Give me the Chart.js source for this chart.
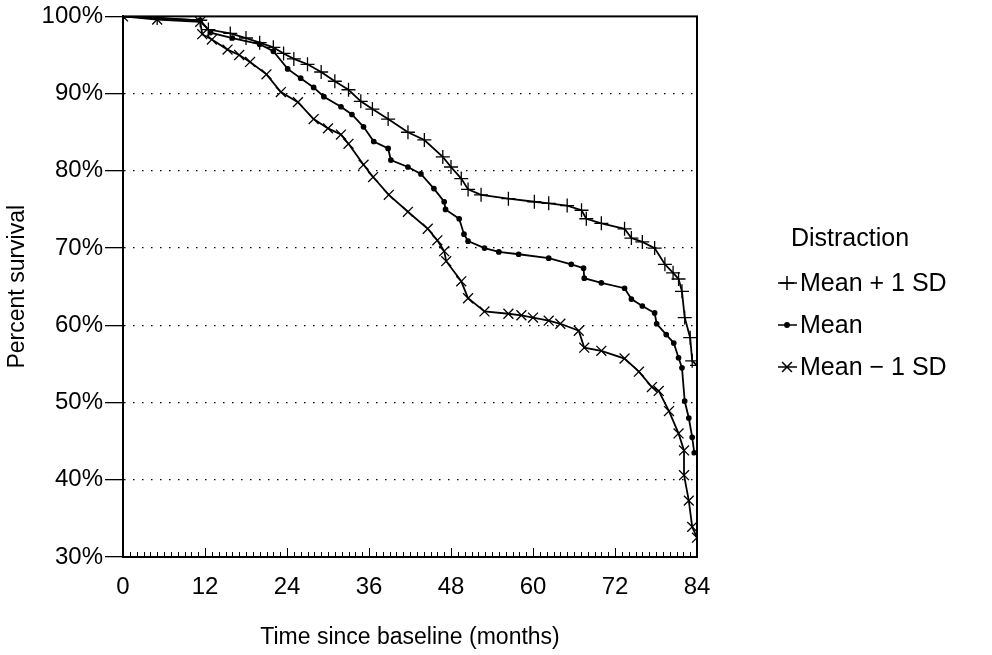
<!DOCTYPE html>
<html>
<head>
<meta charset="utf-8">
<script src="https://cdn.jsdelivr.net/npm/chart.js@4.4.1/dist/chart.umd.min.js"></script>
<style>
  html, body { margin: 0; padding: 0; background: #fff; }
  #wrap { width: 992px; height: 655px; }
</style>
</head>
<body>
<div id="wrap"><canvas id="myChart" width="992" height="655"></canvas></div>
<script>
  // x ticks (months) and y ticks (percent)
  const monthTicks = [0, 12, 24, 36, 48, 60, 72, 84];
  const percentTicks = [30, 40, 50, 60, 70, 80, 90, 100];

  // Mean + 1 SD
  const plusMonths = [0, 5, 11.3, 12.5, 15.7, 18, 20, 22, 23.5, 25, 27, 29, 31, 33, 34.8, 36.5, 38.8, 41.7, 44.1, 46.8, 48, 49.5, 50.5, 52.4, 56.4, 60.2, 62.3, 65, 67.1, 67.8, 70, 73.4, 74.4, 76, 77.8, 79.3, 80.5, 81.3, 81.8, 82.2, 83, 83.3, 84];
  const plusSurvival = [100, 99.8, 99.5, 98.3, 97.8, 97.2, 96.6, 96, 95.2, 94.5, 93.8, 92.8, 91.6, 90.5, 89, 88, 86.7, 85, 84, 81.8, 80.5, 79, 77.6, 76.9, 76.4, 76, 75.8, 75.5, 74.9, 73.8, 73.2, 72.5, 71.3, 70.8, 70, 67.9, 66.8, 66, 64.4, 61, 58.4, 55.4, 54.8];

  // Mean
  const meanMonths = [0, 11.3, 12.8, 16, 20, 22, 24.1, 26, 27.9, 29.4, 31.9, 33.5, 35.2, 36.7, 38.8, 39.2, 41.7, 43.6, 45.5, 47, 47.2, 49.2, 49.9, 50.5, 52.9, 55, 57.9, 62.3, 65.6, 67.4, 67.5, 70, 73.4, 74.4, 76, 77.8, 78.1, 79.5, 80.6, 81.3, 81.8, 82.2, 82.8, 83.3, 83.6];
  const meanSurvival = [100, 99.5, 97.9, 97.2, 96.4, 95.5, 93.2, 92, 90.8, 89.6, 88.3, 87.3, 85.7, 83.8, 82.9, 81.4, 80.5, 79.6, 77.7, 76, 75, 73.8, 71.8, 70.9, 70, 69.5, 69.2, 68.7, 67.9, 67.4, 66.1, 65.5, 64.8, 63.4, 62.5, 61.6, 60.2, 58.8, 57.7, 55.8, 54.5, 50.2, 48, 45.5, 43.5];

  // Mean - 1 SD
  const minusMonths = [0, 5, 11.3, 11.6, 13, 15.3, 17, 18.6, 21, 23.1, 25.6, 27.9, 30, 31.9, 33, 35.2, 36.6, 38.9, 41.7, 44.6, 46, 47, 47.3, 49.5, 50.5, 52.9, 56.4, 58.3, 60, 62.3, 64, 66.7, 67.5, 70, 73.4, 75.5, 77.4, 78.4, 79.9, 81.3, 82.1, 82.1, 82.8, 83.3, 84];
  const minusSurvival = [100, 99.6, 99.3, 97.7, 97, 95.7, 95, 94.1, 92.5, 90.2, 88.9, 86.7, 85.5, 84.7, 83.5, 80.8, 79.2, 76.9, 74.7, 72.5, 71, 69.6, 68.3, 65.7, 63.5, 61.8, 61.5, 61.3, 61, 60.6, 60.2, 59.3, 57.1, 56.7, 55.7, 54, 52, 51.5, 48.9, 46, 43.8, 40.6, 37.3, 33.9, 32.5];

  const legendTitle = 'Distraction';
  const seriesLabels = ['Mean + 1 SD', 'Mean', 'Mean \u2212 1 SD'];

  const FONT = "'Liberation Sans', Arial, Helvetica, sans-serif";

  function toPoints(xs, ys) {
    return xs.map(function (x, i) { return { x: x, y: ys[i] }; });
  }

  // Frame, inside month ticks and the side legend
  const decorations = {
    id: 'decorations',
    afterDraw: function (chart) {
      const ctx = chart.ctx;
      const area = chart.chartArea;
      const xs = chart.scales.x;
      ctx.save();
      ctx.strokeStyle = '#000';
      ctx.lineWidth = 2;
      ctx.strokeRect(area.left, area.top, area.right - area.left, area.bottom - area.top);

      // minor ticks every month, pointing into the plot
      ctx.lineWidth = 1;
      ctx.beginPath();
      for (let m = 0; m <= 84; m++) {
        const px = Math.round(xs.getPixelForValue(m)) + 0.5;
        const len = (m % 12 === 0) ? 9 : 5;
        ctx.moveTo(px, area.bottom);
        ctx.lineTo(px, area.bottom - len);
      }
      ctx.stroke();

      // legend
      ctx.fillStyle = '#000';
      ctx.font = '25px ' + FONT;
      ctx.textBaseline = 'middle';
      ctx.textAlign = 'center';
      ctx.fillText(legendTitle, 850, 239);
      ctx.textAlign = 'left';
      chart.data.datasets.forEach(function (ds, i) {
        const y = 283 + i * 42;
        ctx.strokeStyle = '#000';
        ctx.lineWidth = 1.5;
        ctx.beginPath();
        ctx.moveTo(778, y);
        ctx.lineTo(797, y);
        ctx.stroke();
        Chart.helpers.drawPoint(ctx, {
          pointStyle: ds.pointStyle,
          radius: ds.pointRadius,
          borderWidth: 1.2,
          rotation: 0
        }, 787, y);
        ctx.fillText(ds.label, 800, y + 1);
      });
      ctx.restore();
    }
  };

  const lineBase = {
    borderColor: '#000',
    backgroundColor: '#000',
    pointBorderColor: '#000',
    pointBackgroundColor: '#000',
    borderWidth: 1.8,
    pointBorderWidth: 1.3,
    tension: 0,
    fill: false
  };

  const config = {
    type: 'line',
    data: {
      datasets: [
        Object.assign({}, lineBase, {
          label: seriesLabels[0],
          data: toPoints(plusMonths, plusSurvival),
          pointStyle: 'cross',
          pointRadius: 7
        }),
        Object.assign({}, lineBase, {
          label: seriesLabels[1],
          data: toPoints(meanMonths, meanSurvival),
          pointStyle: 'circle',
          pointRadius: 2.2
        }),
        Object.assign({}, lineBase, {
          label: seriesLabels[2],
          data: toPoints(minusMonths, minusSurvival),
          pointStyle: 'crossRot',
          pointRadius: 7
        })
      ]
    },
    options: {
      responsive: false,
      animation: false,
      layout: { padding: { top: 15, right: 295, left: 0, bottom: 0 } },
      plugins: {
        legend: { display: false },
        tooltip: { enabled: false }
      },
      scales: {
        x: {
          type: 'linear',
          min: 0,
          max: 84,
          afterBuildTicks: function (scale) {
            scale.ticks = monthTicks.map(function (v) { return { value: v }; });
          },
          afterFit: function (scale) { scale.height = 98; },
          grid: { display: false },
          border: { display: true, color: '#000', width: 2 },
          ticks: {
            color: '#000',
            font: { family: FONT, size: 24 },
            padding: 8,
            maxRotation: 0
          },
          title: {
            display: true,
            text: 'Time since baseline (months)',
            color: '#000',
            font: { family: FONT, size: 23 },
            padding: { top: 14 }
          }
        },
        y: {
          min: 30,
          max: 100,
          afterBuildTicks: function (scale) {
            scale.ticks = percentTicks.map(function (v) { return { value: v }; });
          },
          afterFit: function (scale) { scale.width = 123; },
          grid: {
            color: function (c) {
              const v = c.tick ? c.tick.value : null;
              return (v === 30 || v === 100) ? 'rgba(0,0,0,0)' : '#000';
            },
            tickColor: '#000',
            tickLength: 18,
            lineWidth: 1.3
          },
          border: { display: true, color: '#000', width: 2, dash: [1.5, 7.5] },
          ticks: {
            color: '#000',
            font: { family: FONT, size: 24 },
            padding: 2,
            callback: function (v) { return v + '%'; }
          },
          title: {
            display: true,
            text: 'Percent survival',
            color: '#000',
            font: { family: FONT, size: 23 },
            padding: { bottom: 2 }
          }
        }
      }
    },
    plugins: [decorations]
  };

  const myChart = new Chart(document.getElementById('myChart'), config);
</script>
</body>
</html>
